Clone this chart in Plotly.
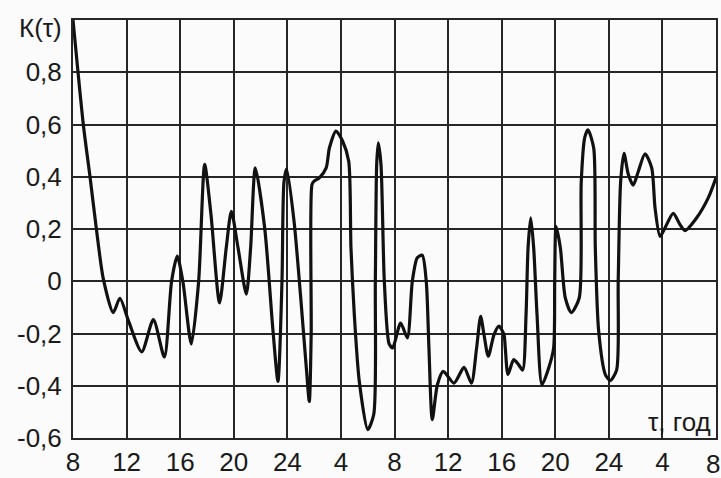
import plotly.graph_objects as go

tau = [0, 0.77, 1.27, 1.77, 2.26, 3.0, 3.5, 4.13, 5.13, 6.0, 6.82, 7.36, 7.78, 8.2, 8.83,
       9.38, 9.83, 10.3, 10.94, 11.44, 11.82, 12.32, 12.94, 13.26, 13.61, 14.31, 14.93, 15.3,
       15.6, 15.75, 15.95, 16.5, 17.0, 17.4, 17.64, 17.78, 17.84, 18.0, 18.39, 18.9, 19.14,
       19.63, 20.13, 20.58, 20.75, 21.0, 21.37, 22.0, 22.45, 22.57, 22.67, 22.79, 22.99, 23.24,
       23.6, 23.86, 24.46, 24.96, 25.33, 25.7, 26.07, 26.37, 26.57, 26.82, 27.2, 27.64, 28.44,
       29.19, 29.74, 30.13, 30.43, 30.68, 31.0, 31.43, 31.8, 32.17, 32.27, 32.47, 32.9, 33.27,
       33.57, 33.82, 33.97, 34.17, 34.39, 34.64, 35.01, 35.51, 35.88, 35.96, 36.06, 36.38,
       36.75, 37.2, 37.79, 37.94, 38.2, 38.44, 38.87, 38.99, 39.24, 39.74, 40.1, 40.58, 40.7,
       40.88, 41.13, 41.45, 41.82, 42.2, 42.7, 43.2, 43.45, 43.82, 44.19, 44.81, 45.31, 45.69,
       46.56, 47.43, 48]
k_tau = [1.0, 0.60, 0.40, 0.19, 0.01, -0.12, -0.065, -0.15, -0.27, -0.147, -0.29, 0.0, 0.096,
         0.0, -0.24, 0.0, 0.447, 0.255, -0.083, 0.128, 0.268, 0.128, -0.049, 0.128, 0.434, 0.204,
         -0.19, -0.383, 0.0, 0.38, 0.43, 0.23, -0.064, -0.32, -0.46, -0.2, 0.37, 0.383, 0.396,
         0.434, 0.51, 0.575, 0.536, 0.46, 0.128, -0.128, -0.383, -0.568, -0.51, 0.0, 0.447, 0.53,
         0.447, 0.0, -0.24, -0.255, -0.16, -0.217, 0.0, 0.09, 0.10, 0.0, -0.255, -0.53, -0.396,
         -0.345, -0.39, -0.33, -0.39, -0.255, -0.134, -0.204, -0.287, -0.204, -0.172, -0.204,
         -0.255, -0.357, -0.30, -0.32, -0.34, -0.128, 0.128, 0.243, 0.128, -0.128, -0.396,
         -0.332, -0.255, 0.0, 0.21, 0.128, -0.064, -0.12, -0.064, 0.38, 0.55, 0.58, 0.51, 0.128,
         -0.19, -0.357, -0.38, -0.34, 0.0, 0.38, 0.49, 0.41, 0.368, 0.42, 0.488, 0.434, 0.28,
         0.172, 0.204, 0.26, 0.217, 0.194, 0.243, 0.32, 0.396]

x_tickvals = list(range(0, 49, 4))
x_ticktext = ["8", "12", "16", "20", "24", "4", "8", "12", "16", "20", "24", "4", "8"]
y_tickvals = [-0.6, -0.4, -0.2, 0, 0.2, 0.4, 0.6, 0.8, 1.0]
y_ticktext = ["-0,6", "-0,4", "-0,2", "0", "0,2", "0,4", "0,6", "0,8", ""]

FONT = "Liberation Sans, Arial, sans-serif"
GRID = "#262626"
BG = "#fbfbfb"
TXT = "#1a1a1a"

fig = go.Figure()
fig.add_trace(go.Scatter(
    x=tau, y=k_tau, mode="lines",
    line=dict(color="#111111", width=3.2, shape="spline", smoothing=0.7),
    hoverinfo="skip", showlegend=False,
))

# last x label sits on the right edge and would be dropped by plotly; draw it as an annotation
axis_text = x_ticktext[:-1] + [""]

fig.update_layout(
    width=721, height=478,
    margin=dict(l=73, r=5, t=20, b=40, autoexpand=False),
    paper_bgcolor=BG, plot_bgcolor=BG,
    font=dict(family=FONT, size=26, color=TXT),
    xaxis=dict(range=[0, 48], tickvals=x_tickvals, ticktext=axis_text,
               showgrid=True, gridcolor=GRID, gridwidth=2,
               showline=True, linecolor=GRID, linewidth=2, mirror=True,
               zeroline=False, ticks="", ticklabelstandoff=0, automargin=False),
    yaxis=dict(range=[-0.6, 1.0], tickvals=y_tickvals, ticktext=y_ticktext,
               showgrid=True, gridcolor=GRID, gridwidth=2,
               showline=True, linecolor=GRID, linewidth=2, mirror=True,
               zeroline=False, ticks="", ticklabelstandoff=4, automargin=False),
    annotations=[
        dict(text="К(τ)", xref="paper", yref="paper", x=-0.014, y=1.0,
             xanchor="right", yanchor="middle", yshift=-8, showarrow=False,
             font=dict(family=FONT, size=26, color=TXT)),
        dict(text="τ, год", xref="paper", yref="y", x=0.995, y=-0.54,
             xanchor="right", yanchor="middle", showarrow=False,
             font=dict(family=FONT, size=26, color=TXT)),
        dict(text=x_ticktext[-1], xref="x", yref="paper", x=x_tickvals[-1], y=0,
             xanchor="center", yanchor="middle", yshift=-26, xshift=-3, showarrow=False,
             font=dict(family=FONT, size=26, color=TXT)),
    ],
)

fig.write_html(
    "out.html",
    config={"displayModeBar": False},
    post_script="document.body.style.margin='0';document.body.style.background='#fbfbfb';",
)
